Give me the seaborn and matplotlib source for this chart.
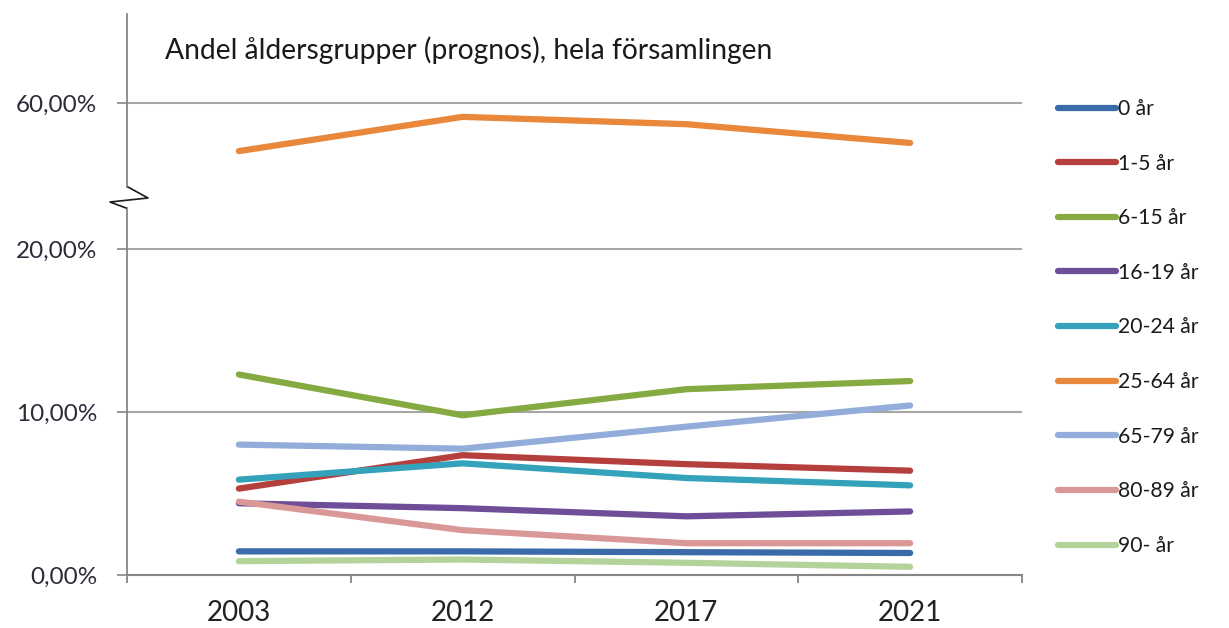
import matplotlib
matplotlib.use("Agg")
import matplotlib.pyplot as plt
import matplotlib.lines as mlines
import seaborn as sns
import pandas as pd

years = ["2003", "2012", "2017", "2021"]
groups = ["0 år", "1-5 år", "6-15 år", "16-19 år", "20-24 år",
          "25-64 år", "65-79 år", "80-89 år", "90- år"]
v_0 = [1.45, 1.45, 1.40, 1.35]
v_1_5 = [5.30, 7.35, 6.80, 6.40]
v_6_15 = [12.30, 9.80, 11.40, 11.90]
v_16_19 = [4.40, 4.10, 3.60, 3.90]
v_20_24 = [5.85, 6.85, 5.95, 5.50]
v_25_64 = [57.05, 59.15, 58.70, 57.55]
v_65_79 = [8.00, 7.75, 9.10, 10.40]
v_80_89 = [4.50, 2.75, 1.95, 1.95]
v_90 = [0.85, 0.95, 0.75, 0.50]
series = [v_0, v_1_5, v_6_15, v_16_19, v_20_24, v_25_64, v_65_79, v_80_89, v_90]
colors = ["#3A6BA8", "#B43F3D", "#85AA41", "#6E4E98", "#34A2BA",
          "#E9873B", "#93ADDA", "#D99797", "#B3D39A"]

rows = []
for g, vals in zip(groups, series):
    for i, v in enumerate(vals):
        rows.append({"x": i, "Andel": v, "group": g})
df = pd.DataFrame(rows)

sns.set_theme(style="white")
plt.rcParams["font.family"] = ["Lato", "DejaVu Sans"]

W, H = 1229, 628
fig = plt.figure(figsize=(W / 100, H / 100), dpi=100)

def fx(px):
    return px / W

def fy(py):
    return 1 - py / H

scale = 16.3  # px per percent
x_left, x_right = 127, 1022
bot_top_px, zero_px = 208, 575
ax_b = fig.add_axes([fx(x_left), fy(zero_px), fx(x_right - x_left),
                     (zero_px - bot_top_px) / H])
top_top_px, top_bot_px = 14, 187
ax_t = fig.add_axes([fx(x_left), fy(top_bot_px), fx(x_right - x_left),
                     (top_bot_px - top_top_px) / H])

for ax in (ax_b, ax_t):
    sns.lineplot(data=df, x="x", y="Andel", hue="group", hue_order=groups,
                 palette=colors, linewidth=4.5, ax=ax, sort=False,
                 legend=(ax is ax_b))
    for ln in ax.get_lines():
        ln.set_solid_capstyle("round")
        ln.set_solid_joinstyle("round")
    ax.set_xlim(-0.5, len(years) - 0.5)
    ax.set_xlabel("")
    ax.set_ylabel("")
    ax.spines["top"].set_visible(False)
    ax.spines["right"].set_visible(False)
    ax.set_facecolor("none")

grid_c = "#A6A6A6"
spine_c = "#868686"

ax_b.set_ylim(0, (zero_px - bot_top_px) / scale)
ax_t.set_ylim(60 - (top_bot_px - 103) / scale, 60 + (103 - top_top_px) / scale)

ax_b.set_yticks([0, 10, 20])
ax_b.set_yticklabels(["0,00%", "10,00%", "20,00%"])
ax_t.set_yticks([60])
ax_t.set_yticklabels(["60,00%"])
for ax in (ax_b, ax_t):
    ax.yaxis.grid(True, color=grid_c, linewidth=1.5)
    ax.set_axisbelow(True)
    ax.tick_params(axis="y", which="major", length=7.5, width=1.2,
                   color=spine_c, labelsize=17.5, labelcolor="#2b2b3a", pad=14,
                   left=True)
    ax.spines["left"].set_color(spine_c)
    ax.spines["left"].set_linewidth(1.3)

ax_t.spines["bottom"].set_visible(False)
ax_t.set_xticks([])

ax_b.set_xticks(range(len(years)))
ax_b.set_xticklabels(years)
ax_b.set_xticks([i - 0.5 for i in range(len(years) + 1)], minor=True)
ax_b.tick_params(axis="x", which="major", length=0, labelsize=20,
                 labelcolor="#222222", pad=18, bottom=True)
ax_b.tick_params(axis="x", which="minor", length=6, width=1.3, color=spine_c,
                 bottom=True)
ax_b.spines["bottom"].set_color(spine_c)
ax_b.spines["bottom"].set_linewidth(1.5)

zig_x = [128, 148, 110, 126]
zig_y = [187, 198, 202, 208]
fig.add_artist(mlines.Line2D([fx(v) for v in zig_x], [fy(v) for v in zig_y],
                             color="#1a1a1a", linewidth=1.2,
                             transform=fig.transFigure))

fig.text(fx(165), fy(50), "Andel åldersgrupper (prognos), hela församlingen",
         fontsize=20.3, color="#1a1a1a", ha="left", va="center")

handles, labels = ax_b.get_legend_handles_labels()
ax_b.get_legend().remove()
for h in handles:
    h.set_linewidth(4.5)
fig.legend(handles, labels, loc="upper left",
           bbox_to_anchor=(fx(1058), fy(99)), frameon=False,
           fontsize=15.2, handlelength=2.75, handletextpad=0.08,
           labelspacing=1.64, borderaxespad=0, borderpad=0,
           labelcolor="#1a1a1a")

fig.savefig("out.png", dpi=100, facecolor="white")
